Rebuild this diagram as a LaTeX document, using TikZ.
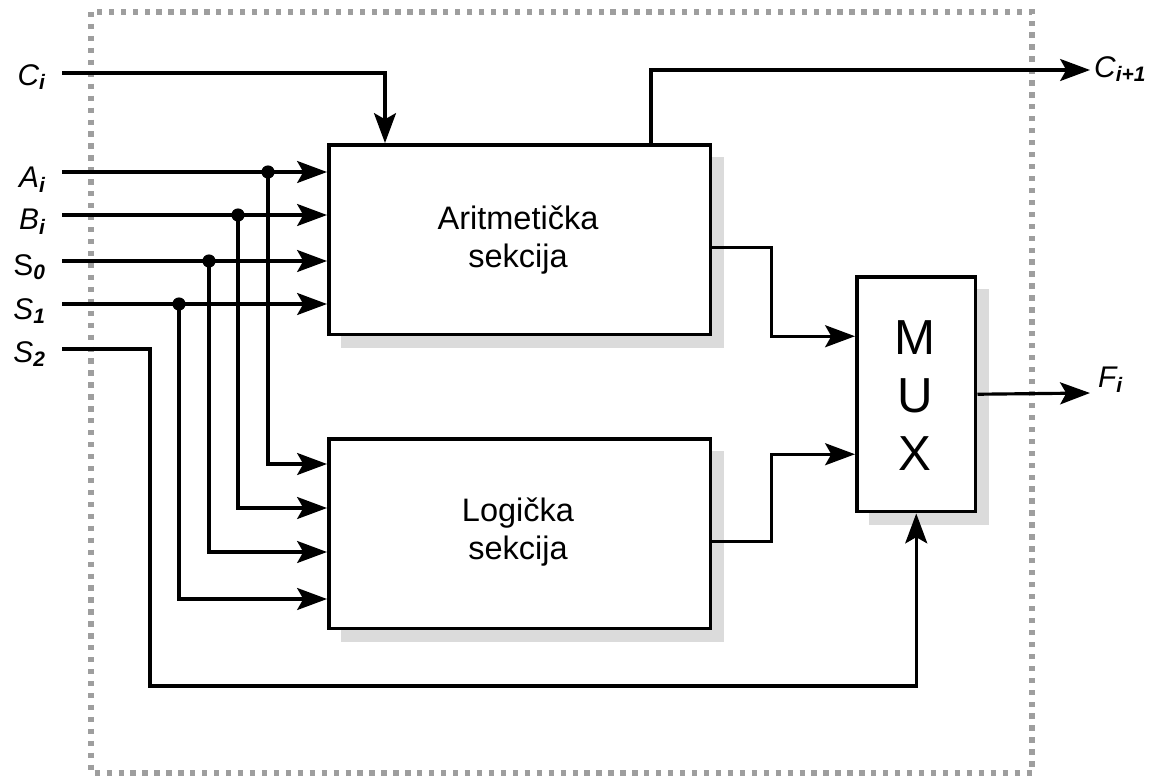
\documentclass[tikz,border=0pt]{standalone}
\usepackage{fontspec}
\setmainfont{Liberation Sans}
\usetikzlibrary{arrows.meta,calc}
\begin{document}
\begin{tikzpicture}[x=0.02cm,y=-0.02cm,
  wire/.style={line width=1.8pt},
  arr/.style={wire,-{Stealth[length=17pt,width=12.5pt,inset=3.5pt]}},
  blk/.style={draw, line width=2pt, fill=white, inner sep=0pt, anchor=north west},
  shadebox/.style={fill=black!14, draw=none},
  dot/.style={circle, fill, inner sep=0pt, minimum size=7.5pt},
  lbl/.style={font=\fontsize{17}{20}\selectfont, anchor=east},
  olbl/.style={font=\fontsize{17}{20}\selectfont, anchor=west},
  big/.style={font=\fontsize{18.5}{21.5}\selectfont, align=center}]
\useasboundingbox (0,0) rectangle (1154,778);
% dotted frame
\draw[black!38, line width=3pt, dash pattern=on 3pt off 3.8pt] (91,12) rectangle (1032,773);
% shadows
\fill[shadebox] (341,157) rectangle (724,348);
\fill[shadebox] (341,451) rectangle (724,642);
\fill[shadebox] (869,289) rectangle (989,525);
% blocks
\node[blk, minimum width=7.64cm, minimum height=3.8cm] (arith) at (327,143) {};
\node[blk, minimum width=7.64cm, minimum height=3.8cm] (logic) at (327,437) {};
\node[blk, minimum width=2.38cm, minimum height=4.7cm] (mux) at (855,275) {};
\node[big] (tA) at (518,240) {Aritmetička\\sekcija};
\node[big] (tL) at (518,532) {Logička\\sekcija};
\node[font=\fontsize{28}{33}\selectfont, align=center] (tM) at (915,396) {M\\U\\X};
% input coordinates and labels
\coordinate (ci) at (62,73);
\coordinate (ai) at (62,172);
\coordinate (bi) at (62,215);
\coordinate (s0) at (62,261);
\coordinate (s1) at (62,304);
\coordinate (s2) at (62,349);
\node[lbl] (lci) at (52,77) {\itshape C\textsubscript{\bfseries i}};
\node[lbl] (lai) at (52,180) {\itshape A\textsubscript{\bfseries i}};
\node[lbl] (lbi) at (52,222) {\itshape B\textsubscript{\bfseries i}};
\node[lbl] (ls0) at (52,267) {S\textsubscript{\bfseries\itshape 0}};
\node[lbl] (ls1) at (52,311) {\itshape S\textsubscript{\bfseries 1}};
\node[lbl] (ls2) at (52,354) {\itshape S\textsubscript{\bfseries 2}};
% junctions
\coordinate (ja) at (268,172);
\coordinate (jb) at (238,215);
\coordinate (j0) at (209,261);
\coordinate (j1) at (179,304);
% C_i
\coordinate (cin) at ($(arith.north west)+(58,0)$);
\draw[arr] (ci) -| (cin);
% arithmetic inputs
\draw[arr] (ai) -- (ai -| arith.west);
\draw[arr] (bi) -- (bi -| arith.west);
\draw[arr] (s0) -- (s0 -| arith.west);
\draw[arr] (s1) -- (s1 -| arith.west);
% logic inputs
\draw[arr] (ja) |- ($(logic.north west)+(0,27)$);
\draw[arr] (jb) |- ($(logic.north west)+(0,71)$);
\draw[arr] (j0) |- ($(logic.north west)+(0,115)$);
\draw[arr] (j1) |- ($(logic.north west)+(0,162)$);
\foreach \j in {ja,jb,j0,j1} \node[dot] at (\j) {};
% S2 to mux
\coordinate (s2c) at (150,349);
\coordinate (s2b) at (150,686);
\draw[arr] (s2) -- (s2c) -- (s2b) -| (mux.south);
% outputs of sections
\coordinate (ao) at ($(arith.east)+(0,8)$);
\coordinate (lo) at ($(logic.east)+(0,8)$);
\coordinate (m1) at ($(mux.west)+(0,-58)$);
\coordinate (m2) at ($(mux.west)+(0,60)$);
\draw[arr] (ao) -- ++(59,0) |- (m1);
\draw[arr] (lo) -- ++(59,0) |- (m2);
% carry out
\coordinate (cout) at ($(arith.north west)+(324,0)$);
\coordinate (co) at (1090,70);
\draw[arr] (cout) |- (co);
\node[olbl] (lco) at (1088,69) {\itshape C\textsubscript{\bfseries i+1}};
% F_i
\coordinate (fo) at (1090,393);
\draw[arr] (mux.east) -- (fo);
\node[olbl] (lfo) at (1092,380) {\itshape F\textsubscript{\bfseries i}};
\end{tikzpicture}
\end{document}
